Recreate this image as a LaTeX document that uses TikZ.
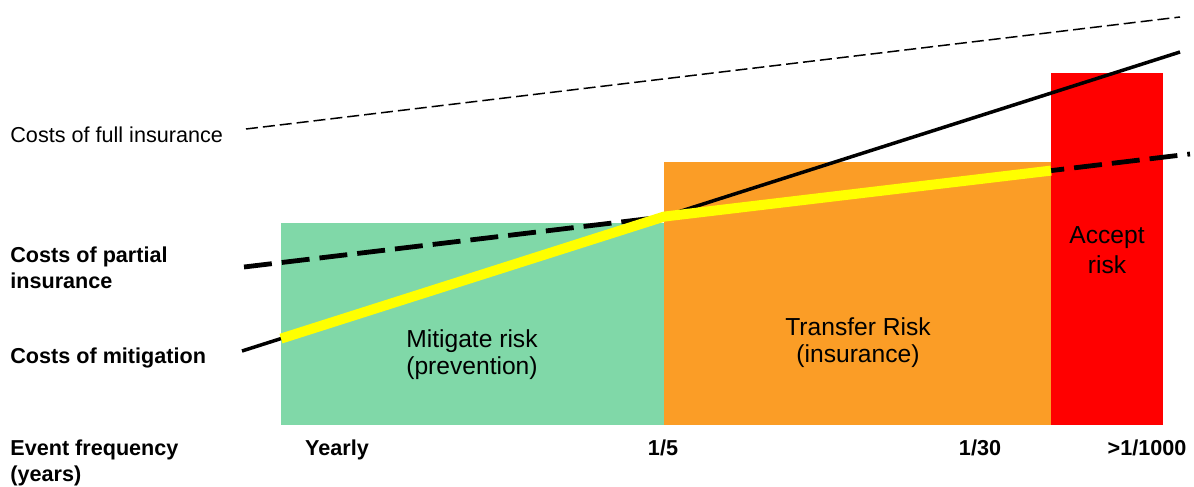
\documentclass[tikz,border=0pt]{standalone}
\usepackage{fontspec}
\setmainfont{Liberation Sans}
\definecolor{mitgreen}{RGB}{128,216,168}
\definecolor{insorange}{RGB}{251,157,38}
\definecolor{riskred}{RGB}{255,0,0}
\definecolor{pathyellow}{RGB}{255,255,0}
\begin{document}
\begin{tikzpicture}[x=0.5pt,y=-0.5pt,
  lbl/.style={inner sep=0,anchor=base west,align=left,font=\fontsize{10.8}{13}\selectfont},
  boldlbl/.style={lbl,font=\fontsize{10.8}{13}\selectfont\bfseries},
  freq/.style={inner sep=0,anchor=base,font=\fontsize{10.8}{13}\selectfont\bfseries},
  zone/.style={inner sep=0,anchor=base,align=center,font=\fontsize{12.3}{13.5}\selectfont}]
\useasboundingbox (0,0) rectangle (1194,487);
% zones
\fill[mitgreen] (281,223) rectangle (664,425);
\fill[insorange] (664,162) rectangle (1051,425);
\fill[riskred] (1051,73) rectangle (1163,425);
\node[zone] (mitigate) at (472,374) {Mitigate risk\\(prevention)};
\node[zone] (transfer) at (858,362) {Transfer Risk\\(insurance)};
\node[zone,font=\fontsize{12.3}{15}\selectfont] (accept) at (1107,273) {Accept\\risk};
% cost lines
\coordinate (fullA) at (246,129);
\coordinate (fullB) at (1180,17);
\coordinate (partA) at (244,267);
\coordinate (partB) at (1190,154);
\coordinate (mitA) at (242,351);
\coordinate (mitB) at (1180,52);
\draw[line width=0.75pt,dash pattern=on 6pt off 2.5pt] (fullA) -- (fullB);
\draw[line width=2.4pt,dash pattern=on 14pt off 5pt] (partA) -- (partB);
\draw[line width=1.75pt] (mitA) -- (mitB);
% cheapest choice
\draw[pathyellow,line width=5pt] (281,338.6) -- (664,216.6) -- (1051,170.6);
% labels
\node[lbl] (fulllbl) at (10,142) {Costs of full insurance};
\node[boldlbl] (partlbl) at (10,288.5) {Costs of partial\\insurance};
\node[boldlbl] (mitlbl) at (10,363) {Costs of mitigation};
\node[boldlbl] (freqlbl) at (10,481) {Event frequency\\(years)};
\node[freq] (yearly) at (337,455) {Yearly};
\node[freq] (five) at (663,455) {1/5};
\node[freq] (thirty) at (980,455) {1/30};
\node[freq] (thousand) at (1147,455) {>1/1000};
\end{tikzpicture}
\end{document}
